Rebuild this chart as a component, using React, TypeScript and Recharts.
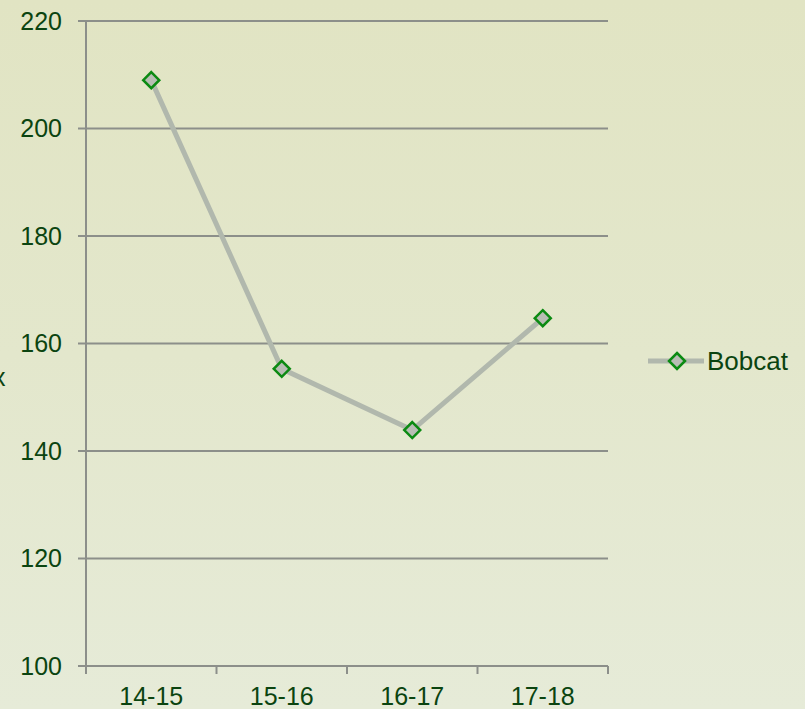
import React from 'react';
import { LineChart, Line, XAxis, YAxis, CartesianGrid, Legend } from 'recharts';

const categories = ['14-15', '15-16', '16-17', '17-18'];
const bobcat = [209, 155.3, 143.9, 164.7];
const yTicks = [100, 120, 140, 160, 180, 200, 220];

const data = categories.map((c, i) => ({ season: c, Bobcat: bobcat[i] }));

const TEXT = '#0b4410';
const GRID = '#8c8f8a';
const LINE = '#b1b8ad';
const MARK_STROKE = '#0b8a12';
const MARK_FILL = '#b8bdb4';
const FONT = 'Arial, "Liberation Sans", sans-serif';

const Diamond = (props: any) => {
  const { cx, cy, index } = props;
  if (cx == null || cy == null) return null;
  const r = 8;
  return (
    <polygon
      key={`d-${index}`}
      points={`${cx},${cy - r} ${cx + r},${cy} ${cx},${cy + r} ${cx - r},${cy}`}
      fill={MARK_FILL}
      stroke={MARK_STROKE}
      strokeWidth={2.5}
    />
  );
};

const TICK_SIZE = 8;
const TICK_MARGIN = 13;

const XTick = (props: any) => {
  const { x, y, payload, index } = props;
  const off = payload && payload.offset ? payload.offset : 0;
  const axisY = y - TICK_SIZE - TICK_MARGIN;
  const last = index === categories.length - 1;
  return (
    <g>
      <line x1={x - off} x2={x - off} y1={axisY} y2={axisY + TICK_SIZE} stroke={GRID} strokeWidth={2} />
      {last && (
        <line x1={x + off} x2={x + off} y1={axisY} y2={axisY + TICK_SIZE} stroke={GRID} strokeWidth={2} />
      )}
      <text x={x} y={y} dy="0.72em" textAnchor="middle" fill={TEXT} fontSize={25} fontFamily={FONT}>
        {payload.value}
      </text>
    </g>
  );
};

const renderLegend = () => (
  <div style={{ display: 'flex', alignItems: 'center', height: 30, paddingLeft: 40, boxSizing: 'border-box' }}>
    <svg width={56} height={30} style={{ display: 'block', flexShrink: 0 }}>
      <line x1={0} x2={56} y1={15} y2={15} stroke={LINE} strokeWidth={5} />
      <polygon points="29,7 37,15 29,23 21,15" fill={MARK_FILL} stroke={MARK_STROKE} strokeWidth={2.5} />
    </svg>
    <span
      style={{
        marginLeft: 3,
        color: TEXT,
        fontSize: 26,
        fontFamily: FONT,
        lineHeight: '30px',
        whiteSpace: 'nowrap',
        flexShrink: 0,
      }}
    >
      Bobcat
    </span>
  </div>
);

export default function App() {
  return (
    <div
      style={{
        position: 'absolute',
        left: 0,
        top: 0,
        width: 805,
        height: 709,
        background: 'linear-gradient(180deg, #e1e4c3 0%, #e3e7cc 50%, #e6ebd8 100%)',
        overflow: 'hidden',
      }}
    >
      <div
        style={{
          position: 'absolute',
          left: -7,
          top: 362,
          color: TEXT,
          fontSize: 25,
          fontFamily: FONT,
          lineHeight: '30px',
        }}
      >
        x
      </div>
      <LineChart width={805} height={709} data={data} margin={{ top: 21, right: 7, bottom: 0, left: 0 }}>
        <CartesianGrid horizontal vertical={false} stroke={GRID} strokeWidth={2} />
        <XAxis
          dataKey="season"
          scale="band"
          height={43}
          axisLine={{ stroke: GRID, strokeWidth: 2 }}
          tickLine={false}
          tickSize={TICK_SIZE}
          tickMargin={TICK_MARGIN}
          tick={<XTick />}
          interval={0}
        />
        <YAxis
          width={86}
          domain={[100, 220]}
          ticks={yTicks}
          interval={0}
          axisLine={{ stroke: GRID, strokeWidth: 2 }}
          tickLine={{ stroke: GRID, strokeWidth: 2 }}
          tickSize={8}
          tickMargin={16}
          tick={{ fill: TEXT, fontSize: 25, fontFamily: FONT }}
        />
        <Legend
          layout="vertical"
          align="right"
          verticalAlign="middle"
          content={renderLegend}
          wrapperStyle={{ width: 190, height: 30, top: 346 }}
        />
        <Line
          type="linear"
          dataKey="Bobcat"
          stroke={LINE}
          strokeWidth={5}
          dot={<Diamond />}
          activeDot={false}
          isAnimationActive={false}
        />
      </LineChart>
    </div>
  );
}
